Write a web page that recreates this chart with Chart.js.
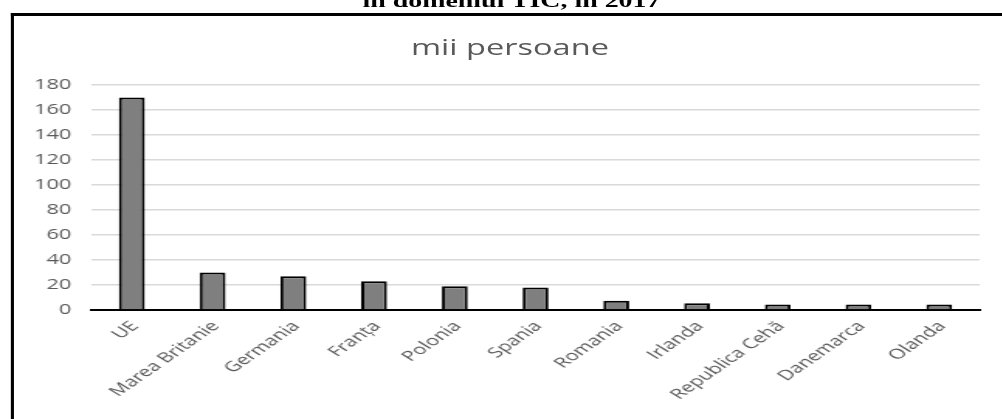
<!DOCTYPE html>
<html>
  <head>
    <title>mii persoane</title>
    <script src="https://cdn.jsdelivr.net/npm/chart.js"></script>
    <style>
      body {
        margin: 0;
        background: #fff;
        overflow: hidden;
      }
      /* whole figure is drawn narrow, then widened */
      #sheet {
        position: absolute;
        left: 0;
        top: 0;
        width: 646px;
        height: 419px;
        transform: scaleX(1.55);
        transform-origin: 0 0;
      }
      #heading {
        position: absolute;
        left: 0;
        width: 660px;
        top: -8px;
        text-align: center;
        font: bold 18px/18px "Liberation Serif", "Times New Roman", serif;
        color: #000;
        white-space: nowrap;
      }
      #frame {
        position: absolute;
        left: 7px;
        top: 13px;
        width: 800px;
        height: 600px;
        border-left: 2px solid #000;
        border-top: 3px solid #000;
      }
      #unit {
        position: absolute;
        left: 229px;
        width: 200px;
        top: 37px;
        text-align: center;
        font: 21px/21px "Open Sans", sans-serif;
        color: #595959;
        white-space: nowrap;
      }
      #wrap {
        position: absolute;
        left: 0;
        top: 0;
        width: 646px;
        height: 419px;
      }
    </style>
  </head>
  <body>
    <div id="sheet">
      <div id="heading">în domeniul TIC, în 2017</div>
      <div id="frame"></div>
      <div id="unit">mii persoane</div>
      <div id="wrap"><canvas id="tic"></canvas></div>
    </div>

    <script>
      const countries = [
        "UE",
        "Marea Britanie",
        "Germania",
        "Franța",
        "Polonia",
        "Spania",
        "Romania",
        "Irlanda",
        "Republica Cehă",
        "Danemarca",
        "Olanda",
      ];
      const specialists = [170, 30, 27, 23, 19, 18, 7.5, 5.5, 4.5, 4.5, 4.5];
      const yTicks = [0, 20, 40, 60, 80, 100, 120, 140, 160, 180];

      const grey = "#595959";
      const ctx = document.getElementById("tic").getContext("2d");

      let ticChart = new Chart(ctx, {
        type: "bar",
        data: {
          labels: countries,
          datasets: [
            {
              label: "mii persoane",
              data: specialists,
              backgroundColor: "#7f7f7f",
              borderColor: "#000",
              borderWidth: 2,
              borderSkipped: "bottom",
              barPercentage: 0.32,
              categoryPercentage: 1,
            },
          ],
        },
        options: {
          responsive: true,
          maintainAspectRatio: false,
          animation: false,
          layout: {
            padding: { left: 0, right: 14, top: 85, bottom: 0 },
          },
          plugins: {
            legend: { display: false },
            tooltip: { enabled: false },
          },
          scales: {
            x: {
              grid: { display: false },
              border: { display: true, color: "#000", width: 2 },
              ticks: {
                color: grey,
                font: { family: "'Open Sans', sans-serif", size: 14 },
                minRotation: 47,
                maxRotation: 47,
                padding: 0,
                labelOffset: 2,
                autoSkip: false,
              },
              afterFit: (scale) => {
                scale.height = 109;
              },
            },
            y: {
              min: 0,
              max: 180,
              afterBuildTicks: (scale) => {
                scale.ticks = yTicks.map((v) => ({ value: v }));
              },
              grid: { color: "#d9d9d9", lineWidth: 1.5, drawTicks: false },
              border: { display: false },
              ticks: {
                color: grey,
                font: { family: "'Open Sans', sans-serif", size: 14 },
                padding: 13,
              },
              afterFit: (scale) => {
                scale.width = 59;
              },
            },
          },
        },
      });
    </script>
  </body>
</html>
